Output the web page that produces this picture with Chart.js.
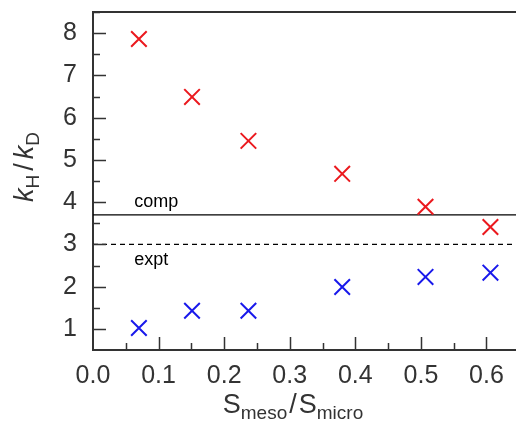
<!DOCTYPE html>
<html>
<head>
<meta charset="utf-8">
<script src="https://cdn.jsdelivr.net/npm/chart.js@4.4.0/dist/chart.umd.min.js"></script>
<style>
  html, body { margin: 0; padding: 0; background: #fff; }
  #wrap { width: 516px; height: 423px; }
</style>
</head>
<body>
<div id="wrap"><canvas id="chart"></canvas></div>
<script>
// data
const sRatio = [0.070, 0.151, 0.237, 0.380, 0.507, 0.606];
const compKie = [7.86, 6.49, 5.45, 4.67, 3.89, 3.41];
const exptKie = [1.02, 1.43, 1.43, 1.99, 2.23, 2.33];
const compLevel = 3.70;
const exptLevel = 3.0;
const xTicks = [0.0, 0.1, 0.2, 0.3, 0.4, 0.5, 0.6];
const yTicks = [1, 2, 3, 4, 5, 6, 7, 8];

const X_MIN = 0, X_MAX = 0.645, Y_MIN = 0.5, Y_MAX = 8.5;
const FONT = "'Liberation Sans', Arial, Helvetica, sans-serif";
const INK = '#333';

function pts(xv, yv) { return xv.map((x, i) => ({ x: x, y: yv[i] })); }

// rich text helper for the axis titles (subscripts, italic k)
function drawRich(ctx, parts, cx, y) {
  let w = 0;
  parts.forEach(p => {
    ctx.font = (p.italic ? 'italic ' : '') + p.size + 'px ' + FONT;
    p.w = ctx.measureText(p.t).width;
    w += p.w + (p.gap || 0);
  });
  let x = cx - w / 2;
  parts.forEach(p => {
    ctx.font = (p.italic ? 'italic ' : '') + p.size + 'px ' + FONT;
    ctx.fillText(p.t, x, y + (p.dy || 0));
    x += p.w + (p.gap || 0);
  });
}

const framePlugin = {
  id: 'frame',
  afterDraw(chart) {
    const ctx = chart.ctx, a = chart.chartArea;
    const xs = chart.scales.x, ys = chart.scales.y;
    ctx.save();
    ctx.strokeStyle = INK;
    ctx.lineWidth = 2;
    // top border
    ctx.beginPath();
    ctx.moveTo(a.left - 1, a.top);
    ctx.lineTo(a.right, a.top);
    ctx.stroke();
    // inward ticks
    ctx.lineWidth = 1.5;
    ctx.beginPath();
    for (let v = 1; v <= 8.5; v += 0.5) {
      const y = Math.round(ys.getPixelForValue(v)) + 0.5;
      const len = Number.isInteger(v) ? 13 : 7;
      ctx.moveTo(a.left, y);
      ctx.lineTo(a.left + len, y);
    }
    for (let i = 1; i <= 12; i++) {
      const x = Math.round(xs.getPixelForValue(i * 0.05)) + 0.5;
      const len = i % 2 === 0 ? 13 : 7;
      ctx.moveTo(x, a.bottom);
      ctx.lineTo(x, a.bottom - len);
    }
    ctx.stroke();

    // line labels
    ctx.fillStyle = '#000';
    ctx.font = '18px ' + FONT;
    ctx.textAlign = 'left';
    ctx.textBaseline = 'alphabetic';
    const lx = xs.getPixelForValue(0.063);
    ctx.fillText('comp', lx, ys.getPixelForValue(compLevel) - 8);
    ctx.fillText('expt', lx, ys.getPixelForValue(exptLevel) + 21);

    // axis titles
    ctx.fillStyle = INK;
    drawRich(ctx, [
      { t: 'S', size: 27 },
      { t: 'meso', size: 19, dy: 6, gap: 2 },
      { t: '/', size: 27, gap: 2 },
      { t: 'S', size: 27 },
      { t: 'micro', size: 19, dy: 6 }
    ], 293, 413);

    ctx.translate(33, 167);
    ctx.rotate(-Math.PI / 2);
    drawRich(ctx, [
      { t: 'k', size: 27, italic: true },
      { t: 'H', size: 19, dy: 6, gap: 4 },
      { t: '/', size: 27, gap: 4 },
      { t: 'k', size: 27, italic: true },
      { t: 'D', size: 19, dy: 6 }
    ], 0, 0);
    ctx.restore();
  }
};

new Chart(document.getElementById('chart'), {
  type: 'scatter',
  data: {
    datasets: [
      {
        label: 'comp',
        data: pts(sRatio, compKie),
        pointStyle: 'crossRot',
        pointRadius: 11,
        borderWidth: 2,
        borderColor: 'rgb(235,25,30)',
        backgroundColor: 'rgb(235,25,30)'
      },
      {
        label: 'expt',
        data: pts(sRatio, exptKie),
        pointStyle: 'crossRot',
        pointRadius: 11,
        borderWidth: 2,
        borderColor: 'rgb(25,25,235)',
        backgroundColor: 'rgb(25,25,235)'
      },
      {
        label: 'comp level',
        type: 'line',
        data: [{ x: X_MIN, y: compLevel }, { x: X_MAX, y: compLevel }],
        borderColor: '#000',
        borderWidth: 1.2,
        pointRadius: 0
      },
      {
        label: 'expt level',
        type: 'line',
        data: [{ x: X_MIN, y: exptLevel }, { x: X_MAX, y: exptLevel }],
        borderColor: '#000',
        borderWidth: 1.2,
        borderDash: [5, 4],
        pointRadius: 0
      }
    ]
  },
  options: {
    responsive: true,
    maintainAspectRatio: false,
    animation: false,
    layout: { autoPadding: false, padding: { top: 12, right: 0, left: 0, bottom: 0 } },
    plugins: { legend: { display: false }, tooltip: { enabled: false } },
    scales: {
      x: {
        type: 'linear',
        min: X_MIN,
        max: X_MAX,
        afterBuildTicks: s => { s.ticks = xTicks.map(v => ({ value: v })); },
        afterFit: s => { s.height = 73; s.paddingLeft = 0; s.paddingRight = 0; },
        grid: { display: false, drawTicks: false },
        border: { color: INK, width: 2 },
        ticks: {
          color: INK,
          font: { family: FONT, size: 25 },
          padding: 11,
          maxRotation: 0,
          callback: v => v.toFixed(1)
        }
      },
      y: {
        type: 'linear',
        min: Y_MIN,
        max: Y_MAX,
        afterBuildTicks: s => { s.ticks = yTicks.map(v => ({ value: v })); },
        afterFit: s => { s.width = 93; s.paddingTop = 0; s.paddingBottom = 0; },
        grid: { display: false, drawTicks: false },
        border: { color: INK, width: 2 },
        ticks: {
          color: INK,
          font: { family: FONT, size: 25 },
          padding: 16,
          callback: v => String(v)
        }
      }
    }
  },
  plugins: [framePlugin]
});
</script>
</body>
</html>
